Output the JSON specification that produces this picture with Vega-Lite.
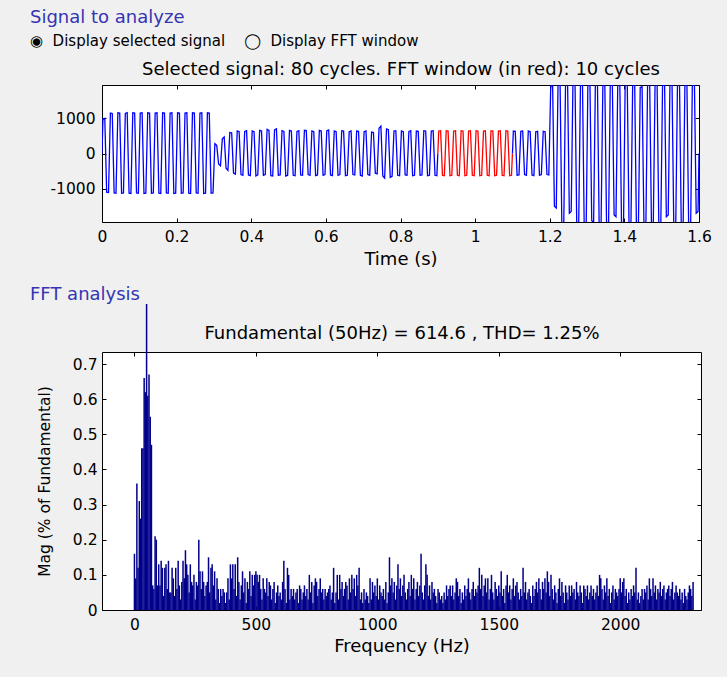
{
"$schema": "https://vega.github.io/schema/vega-lite/v6.json",
"background": "#f0f0f0",
"padding": {"left": 29, "top": 8, "right": 20, "bottom": 25},
"config": {
  "view": {"fill": "white", "stroke": "black", "strokeWidth": 1},
  "font": "DejaVu Sans",
  "axis": {"labelFont": "DejaVu Sans", "labelFontSize": 15.5, "labelColor": "black", "labelFlush": false, "titleFont": "DejaVu Sans", "titleFontSize": 18, "titleFontWeight": "normal", "titleColor": "black", "domain": false, "grid": false, "tickColor": "black", "tickSize": -4, "labelPadding": 11},
  "title": {"font": "DejaVu Sans", "fontWeight": "normal", "color": "#3434b4", "fontSize": 18, "anchor": "start", "frame": "group", "subtitleFont": "DejaVu Sans", "subtitleColor": "black", "subtitleFontSize": 15}
},
"concat": [
{
  "width": 597, "height": 137,
  "title": {"text": "Signal to analyze", "subtitle": "◉\u00a0\u00a0Display selected signal\u00a0\u00a0\u00a0\u00a0◯\u00a0\u00a0Display FFT window", "dx": -72, "offset": 12, "subtitlePadding": 7},
  "data": {"values": [
{"t":0,"v":0,"s":"a"},
{"t":0.0025,"v":980,"s":"a"},{"t":0.0075,"v":1000,"s":"a"},{"t":0.0125,"v":-1100,"s":"a"},{"t":0.0175,"v":-1110,"s":"a"},
{"t":0.0225,"v":1150,"s":"a"},{"t":0.0275,"v":1140,"s":"a"},{"t":0.0325,"v":-1120,"s":"a"},{"t":0.0375,"v":-1130,"s":"a"},
{"t":0.0425,"v":1160,"s":"a"},{"t":0.0475,"v":1150,"s":"a"},{"t":0.0525,"v":-1130,"s":"a"},{"t":0.0575,"v":-1120,"s":"a"},
{"t":0.0625,"v":1140,"s":"a"},{"t":0.0675,"v":1160,"s":"a"},{"t":0.0725,"v":-1130,"s":"a"},{"t":0.0775,"v":-1140,"s":"a"},
{"t":0.0825,"v":1160,"s":"a"},{"t":0.0875,"v":1150,"s":"a"},{"t":0.0925,"v":-1120,"s":"a"},{"t":0.0975,"v":-1130,"s":"a"},
{"t":0.1025,"v":1150,"s":"a"},{"t":0.1075,"v":1160,"s":"a"},{"t":0.1125,"v":-1140,"s":"a"},{"t":0.1175,"v":-1130,"s":"a"},
{"t":0.1225,"v":1160,"s":"a"},{"t":0.1275,"v":1150,"s":"a"},{"t":0.1325,"v":-1130,"s":"a"},{"t":0.1375,"v":-1120,"s":"a"},
{"t":0.1425,"v":1150,"s":"a"},{"t":0.1475,"v":1160,"s":"a"},{"t":0.1525,"v":-1130,"s":"a"},{"t":0.1575,"v":-1140,"s":"a"},
{"t":0.1625,"v":1160,"s":"a"},{"t":0.1675,"v":1150,"s":"a"},{"t":0.1725,"v":-1120,"s":"a"},{"t":0.1775,"v":-1130,"s":"a"},
{"t":0.1825,"v":1150,"s":"a"},{"t":0.1875,"v":1160,"s":"a"},{"t":0.1925,"v":-1140,"s":"a"},{"t":0.1975,"v":-1130,"s":"a"},
{"t":0.2025,"v":1160,"s":"a"},{"t":0.2075,"v":1150,"s":"a"},{"t":0.2125,"v":-1130,"s":"a"},{"t":0.2175,"v":-1120,"s":"a"},
{"t":0.2225,"v":1150,"s":"a"},{"t":0.2275,"v":1160,"s":"a"},{"t":0.2325,"v":-1130,"s":"a"},{"t":0.2375,"v":-1140,"s":"a"},
{"t":0.2425,"v":1160,"s":"a"},{"t":0.2475,"v":1150,"s":"a"},{"t":0.2525,"v":-1120,"s":"a"},{"t":0.2575,"v":-1130,"s":"a"},
{"t":0.2625,"v":1150,"s":"a"},{"t":0.2675,"v":1160,"s":"a"},{"t":0.2725,"v":-1140,"s":"a"},{"t":0.2775,"v":-1130,"s":"a"},
{"t":0.2825,"v":1160,"s":"a"},{"t":0.2875,"v":1150,"s":"a"},{"t":0.2925,"v":-1130,"s":"a"},{"t":0.2975,"v":-1120,"s":"a"},
{"t":0.3025,"v":280,"s":"a"},{"t":0.3075,"v":230,"s":"a"},{"t":0.3125,"v":-300,"s":"a"},{"t":0.3175,"v":-350,"s":"a"},
{"t":0.3225,"v":420,"s":"a"},{"t":0.3275,"v":470,"s":"a"},{"t":0.3325,"v":-420,"s":"a"},{"t":0.3375,"v":-480,"s":"a"},
{"t":0.3425,"v":600,"s":"a"},{"t":0.3475,"v":590,"s":"a"},{"t":0.3525,"v":-560,"s":"a"},{"t":0.3575,"v":-590,"s":"a"},
{"t":0.3625,"v":640,"s":"a"},{"t":0.3675,"v":620,"s":"a"},{"t":0.3725,"v":-600,"s":"a"},{"t":0.3775,"v":-620,"s":"a"},
{"t":0.3825,"v":630,"s":"a"},{"t":0.3875,"v":650,"s":"a"},{"t":0.3925,"v":-610,"s":"a"},{"t":0.3975,"v":-630,"s":"a"},
{"t":0.4025,"v":640,"s":"a"},{"t":0.4075,"v":620,"s":"a"},{"t":0.4125,"v":-640,"s":"a"},{"t":0.4175,"v":-610,"s":"a"},
{"t":0.4225,"v":660,"s":"a"},{"t":0.4275,"v":640,"s":"a"},{"t":0.4325,"v":-620,"s":"a"},{"t":0.4375,"v":-600,"s":"a"},
{"t":0.4425,"v":690,"s":"a"},{"t":0.4475,"v":660,"s":"a"},{"t":0.4525,"v":-630,"s":"a"},{"t":0.4575,"v":-640,"s":"a"},
{"t":0.4625,"v":670,"s":"a"},{"t":0.4675,"v":700,"s":"a"},{"t":0.4725,"v":-620,"s":"a"},{"t":0.4775,"v":-610,"s":"a"},
{"t":0.4825,"v":650,"s":"a"},{"t":0.4875,"v":630,"s":"a"},{"t":0.4925,"v":-640,"s":"a"},{"t":0.4975,"v":-620,"s":"a"},
{"t":0.5025,"v":660,"s":"a"},{"t":0.5075,"v":640,"s":"a"},{"t":0.5125,"v":-620,"s":"a"},{"t":0.5175,"v":-630,"s":"a"},
{"t":0.5225,"v":630,"s":"a"},{"t":0.5275,"v":650,"s":"a"},{"t":0.5325,"v":-610,"s":"a"},{"t":0.5375,"v":-620,"s":"a"},
{"t":0.5425,"v":660,"s":"a"},{"t":0.5475,"v":650,"s":"a"},{"t":0.5525,"v":-600,"s":"a"},{"t":0.5575,"v":-620,"s":"a"},
{"t":0.5625,"v":640,"s":"a"},{"t":0.5675,"v":620,"s":"a"},{"t":0.5725,"v":-630,"s":"a"},{"t":0.5775,"v":-610,"s":"a"},
{"t":0.5825,"v":660,"s":"a"},{"t":0.5875,"v":640,"s":"a"},{"t":0.5925,"v":-620,"s":"a"},{"t":0.5975,"v":-600,"s":"a"},
{"t":0.6025,"v":650,"s":"a"},{"t":0.6075,"v":670,"s":"a"},{"t":0.6125,"v":-610,"s":"a"},{"t":0.6175,"v":-630,"s":"a"},
{"t":0.6225,"v":640,"s":"a"},{"t":0.6275,"v":620,"s":"a"},{"t":0.6325,"v":-620,"s":"a"},{"t":0.6375,"v":-600,"s":"a"},
{"t":0.6425,"v":650,"s":"a"},{"t":0.6475,"v":640,"s":"a"},{"t":0.6525,"v":-630,"s":"a"},{"t":0.6575,"v":-620,"s":"a"},
{"t":0.6625,"v":620,"s":"a"},{"t":0.6675,"v":640,"s":"a"},{"t":0.6725,"v":-600,"s":"a"},{"t":0.6775,"v":-610,"s":"a"},
{"t":0.6825,"v":640,"s":"a"},{"t":0.6875,"v":630,"s":"a"},{"t":0.6925,"v":-620,"s":"a"},{"t":0.6975,"v":-640,"s":"a"},
{"t":0.7025,"v":620,"s":"a"},{"t":0.7075,"v":640,"s":"a"},{"t":0.7125,"v":-600,"s":"a"},{"t":0.7175,"v":-620,"s":"a"},
{"t":0.7225,"v":610,"s":"a"},{"t":0.7275,"v":600,"s":"a"},{"t":0.7325,"v":-560,"s":"a"},{"t":0.7375,"v":-580,"s":"a"},
{"t":0.7425,"v":720,"s":"a"},{"t":0.7475,"v":780,"s":"a"},{"t":0.7525,"v":-640,"s":"a"},{"t":0.7575,"v":-700,"s":"a"},
{"t":0.7625,"v":700,"s":"a"},{"t":0.7675,"v":680,"s":"a"},{"t":0.7725,"v":-680,"s":"a"},{"t":0.7775,"v":-650,"s":"a"},
{"t":0.7825,"v":640,"s":"a"},{"t":0.7875,"v":650,"s":"a"},{"t":0.7925,"v":-620,"s":"a"},{"t":0.7975,"v":-630,"s":"a"},
{"t":0.8025,"v":640,"s":"a"},{"t":0.8075,"v":620,"s":"a"},{"t":0.8125,"v":-610,"s":"a"},{"t":0.8175,"v":-620,"s":"a"},
{"t":0.8225,"v":630,"s":"a"},{"t":0.8275,"v":650,"s":"a"},{"t":0.8325,"v":-630,"s":"a"},{"t":0.8375,"v":-620,"s":"a"},
{"t":0.8425,"v":640,"s":"a"},{"t":0.8475,"v":630,"s":"a"},{"t":0.8525,"v":-620,"s":"a"},{"t":0.8575,"v":-610,"s":"a"},
{"t":0.8625,"v":650,"s":"a"},{"t":0.8675,"v":640,"s":"a"},{"t":0.8725,"v":-630,"s":"a"},{"t":0.8775,"v":-620,"s":"a"},
{"t":0.8825,"v":640,"s":"a"},{"t":0.8875,"v":650,"s":"a"},{"t":0.8925,"v":-620,"s":"a"},{"t":0.8975,"v":-630,"s":"a"},
{"t":0.9,"v":0,"s":"a"},
{"t":0.9,"v":0,"s":"b"},
{"t":0.9025,"v":640,"s":"b"},{"t":0.9075,"v":650,"s":"b"},{"t":0.9125,"v":-620,"s":"b"},{"t":0.9175,"v":-630,"s":"b"},
{"t":0.9225,"v":650,"s":"b"},{"t":0.9275,"v":640,"s":"b"},{"t":0.9325,"v":-630,"s":"b"},{"t":0.9375,"v":-620,"s":"b"},
{"t":0.9425,"v":640,"s":"b"},{"t":0.9475,"v":650,"s":"b"},{"t":0.9525,"v":-620,"s":"b"},{"t":0.9575,"v":-630,"s":"b"},
{"t":0.9625,"v":650,"s":"b"},{"t":0.9675,"v":640,"s":"b"},{"t":0.9725,"v":-630,"s":"b"},{"t":0.9775,"v":-620,"s":"b"},
{"t":0.9825,"v":640,"s":"b"},{"t":0.9875,"v":650,"s":"b"},{"t":0.9925,"v":-620,"s":"b"},{"t":0.9975,"v":-630,"s":"b"},
{"t":1.0025,"v":650,"s":"b"},{"t":1.0075,"v":640,"s":"b"},{"t":1.0125,"v":-630,"s":"b"},{"t":1.0175,"v":-620,"s":"b"},
{"t":1.0225,"v":640,"s":"b"},{"t":1.0275,"v":650,"s":"b"},{"t":1.0325,"v":-620,"s":"b"},{"t":1.0375,"v":-630,"s":"b"},
{"t":1.0425,"v":650,"s":"b"},{"t":1.0475,"v":640,"s":"b"},{"t":1.0525,"v":-630,"s":"b"},{"t":1.0575,"v":-620,"s":"b"},
{"t":1.0625,"v":640,"s":"b"},{"t":1.0675,"v":650,"s":"b"},{"t":1.0725,"v":-620,"s":"b"},{"t":1.0775,"v":-630,"s":"b"},
{"t":1.0825,"v":650,"s":"b"},{"t":1.0875,"v":640,"s":"b"},{"t":1.0925,"v":-630,"s":"b"},{"t":1.0975,"v":-620,"s":"b"},
{"t":1.1,"v":0,"s":"b"},
{"t":1.1,"v":0,"s":"c"},
{"t":1.1025,"v":640,"s":"c"},{"t":1.1075,"v":630,"s":"c"},{"t":1.1125,"v":-620,"s":"c"},{"t":1.1175,"v":-610,"s":"c"},
{"t":1.1225,"v":630,"s":"c"},{"t":1.1275,"v":640,"s":"c"},{"t":1.1325,"v":-600,"s":"c"},{"t":1.1375,"v":-620,"s":"c"},
{"t":1.1425,"v":640,"s":"c"},{"t":1.1475,"v":620,"s":"c"},{"t":1.1525,"v":-610,"s":"c"},{"t":1.1575,"v":-630,"s":"c"},
{"t":1.1625,"v":620,"s":"c"},{"t":1.1675,"v":630,"s":"c"},{"t":1.1725,"v":-620,"s":"c"},{"t":1.1775,"v":-600,"s":"c"},
{"t":1.1825,"v":630,"s":"c"},{"t":1.1875,"v":620,"s":"c"},{"t":1.1925,"v":-600,"s":"c"},{"t":1.1975,"v":-610,"s":"c"},
{"t":1.2025,"v":1850,"s":"c"},{"t":1.2075,"v":2100,"s":"c"},{"t":1.2125,"v":-1500,"s":"c"},{"t":1.2175,"v":-1550,"s":"c"},
{"t":1.2225,"v":2200,"s":"c"},{"t":1.2275,"v":2150,"s":"c"},{"t":1.2325,"v":-2100,"s":"c"},{"t":1.2375,"v":-2050,"s":"c"},
{"t":1.2425,"v":2150,"s":"c"},{"t":1.2475,"v":2250,"s":"c"},{"t":1.2525,"v":-1700,"s":"c"},{"t":1.2575,"v":-1650,"s":"c"},
{"t":1.2625,"v":2300,"s":"c"},{"t":1.2675,"v":2200,"s":"c"},{"t":1.2725,"v":-2150,"s":"c"},{"t":1.2775,"v":-2100,"s":"c"},
{"t":1.2825,"v":2100,"s":"c"},{"t":1.2875,"v":2200,"s":"c"},{"t":1.2925,"v":-2200,"s":"c"},{"t":1.2975,"v":-2250,"s":"c"},
{"t":1.3025,"v":2250,"s":"c"},{"t":1.3075,"v":2150,"s":"c"},{"t":1.3125,"v":-1900,"s":"c"},{"t":1.3175,"v":-2000,"s":"c"},
{"t":1.3225,"v":2200,"s":"c"},{"t":1.3275,"v":2300,"s":"c"},{"t":1.3325,"v":-2100,"s":"c"},{"t":1.3375,"v":-2050,"s":"c"},
{"t":1.3425,"v":2100,"s":"c"},{"t":1.3475,"v":2050,"s":"c"},{"t":1.3525,"v":-2200,"s":"c"},{"t":1.3575,"v":-2150,"s":"c"},
{"t":1.3625,"v":2250,"s":"c"},{"t":1.3675,"v":2200,"s":"c"},{"t":1.3725,"v":-1750,"s":"c"},{"t":1.3775,"v":-1800,"s":"c"},
{"t":1.3825,"v":2150,"s":"c"},{"t":1.3875,"v":2250,"s":"c"},{"t":1.3925,"v":-2150,"s":"c"},{"t":1.3975,"v":-2200,"s":"c"},
{"t":1.4025,"v":2300,"s":"c"},{"t":1.4075,"v":2200,"s":"c"},{"t":1.4125,"v":-2050,"s":"c"},{"t":1.4175,"v":-2100,"s":"c"},
{"t":1.4225,"v":2200,"s":"c"},{"t":1.4275,"v":2100,"s":"c"},{"t":1.4325,"v":-2250,"s":"c"},{"t":1.4375,"v":-2200,"s":"c"},
{"t":1.4425,"v":1880,"s":"c"},{"t":1.4475,"v":1900,"s":"c"},{"t":1.4525,"v":-2100,"s":"c"},{"t":1.4575,"v":-2150,"s":"c"},
{"t":1.4625,"v":2250,"s":"c"},{"t":1.4675,"v":2300,"s":"c"},{"t":1.4725,"v":-1950,"s":"c"},{"t":1.4775,"v":-2000,"s":"c"},
{"t":1.4825,"v":2200,"s":"c"},{"t":1.4875,"v":2150,"s":"c"},{"t":1.4925,"v":-2200,"s":"c"},{"t":1.4975,"v":-2150,"s":"c"},
{"t":1.5025,"v":2100,"s":"c"},{"t":1.5075,"v":2200,"s":"c"},{"t":1.5125,"v":-1800,"s":"c"},{"t":1.5175,"v":-1750,"s":"c"},
{"t":1.5225,"v":2250,"s":"c"},{"t":1.5275,"v":2200,"s":"c"},{"t":1.5325,"v":-2150,"s":"c"},{"t":1.5375,"v":-2200,"s":"c"},
{"t":1.5425,"v":2150,"s":"c"},{"t":1.5475,"v":2250,"s":"c"},{"t":1.5525,"v":-2100,"s":"c"},{"t":1.5575,"v":-2050,"s":"c"},
{"t":1.5625,"v":2200,"s":"c"},{"t":1.5675,"v":2100,"s":"c"},{"t":1.5725,"v":-2250,"s":"c"},{"t":1.5775,"v":-2200,"s":"c"},
{"t":1.5825,"v":2300,"s":"c"},{"t":1.5875,"v":2200,"s":"c"},{"t":1.5925,"v":-1700,"s":"c"},{"t":1.5975,"v":-1650,"s":"c"},
{"t":1.6,"v":0,"s":"c"}
  ]},
  "layer": [
    {"mark": {"type": "line", "clip": true, "strokeWidth": 1.3},
     "encoding": {
       "x": {"field": "t", "type": "quantitative", "scale": {"domain": [0, 1.6], "nice": false, "zero": false},
             "axis": {"orient": "bottom", "values": [0,0.2,0.4,0.6,0.8,1,1.2,1.4,1.6], "format": "~g", "title": "Time (s)", "titlePadding": 6}},
       "y": {"field": "v", "type": "quantitative", "scale": {"domain": [-1950, 1950], "nice": false},
             "axis": {"orient": "left", "values": [-1000, 0, 1000], "labelExpr": "'' + datum.value", "title": null}},
       "color": {"field": "s", "type": "nominal", "scale": {"domain": ["a","b","c"], "range": ["#0000ff","#ff0000","#0000ff"]}, "legend": null}
     }},
    {"mark": {"type": "line", "opacity": 0, "clip": true},
     "encoding": {
       "x": {"field": "t", "type": "quantitative",
             "axis": {"orient": "top", "values": [0,0.2,0.4,0.6,0.8,1,1.2,1.4,1.6], "labels": false, "title": "Selected signal: 80 cycles. FFT window (in red): 10 cycles", "titlePadding": 6}},
       "y": {"field": "v", "type": "quantitative",
             "axis": {"orient": "right", "values": [-1000, 0, 1000], "labels": false, "title": null}},
       "detail": {"field": "s"}
     }}
  ],
  "resolve": {"axis": {"x": "independent", "y": "independent"}}
},
{
  "width": 599, "height": 258,
  "title": {"text": "FFT analysis", "dx": -72, "offset": 0},
  "data": {"values": [
{"f":0,"m":0.16},{"f":5,"m":0.09},{"f":10,"m":0.36},{"f":15,"m":0.12},{"f":20,"m":0.31},{"f":25,"m":0.26},{"f":30,"m":0.46},{"f":35,"m":0.46},{"f":40,"m":0.66},{"f":45,"m":0.62},
{"f":50,"m":100},{"f":55,"m":0.61},{"f":60,"m":0.67},{"f":65,"m":0.55},{"f":70,"m":0.47},{"f":75,"m":0.07},{"f":80,"m":0.06},{"f":85,"m":0.21},{"f":90,"m":0.2},{"f":95,"m":0.07},
{"f":100,"m":0.13},{"f":105,"m":0.07},{"f":110,"m":0.14},{"f":115,"m":0.12},{"f":120,"m":0.04},{"f":125,"m":0.12},{"f":130,"m":0.13},{"f":135,"m":0.06},{"f":140,"m":0.14},{"f":145,"m":0.05},
{"f":150,"m":0.05},{"f":155,"m":0.12},{"f":160,"m":0.09},{"f":165,"m":0.04},{"f":170,"m":0.12},{"f":175,"m":0.06},{"f":180,"m":0.14},{"f":185,"m":0.07},{"f":190,"m":0.03},{"f":195,"m":0.08},
{"f":200,"m":0.14},{"f":205,"m":0.09},{"f":210,"m":0.17},{"f":215,"m":0.13},{"f":220,"m":0.1},{"f":225,"m":0.05},{"f":230,"m":0.13},{"f":235,"m":0.08},{"f":240,"m":0.07},{"f":245,"m":0.1},
{"f":250,"m":0.03},{"f":255,"m":0.08},{"f":260,"m":0.07},{"f":265,"m":0.2},{"f":270,"m":0.11},{"f":275,"m":0.06},{"f":280,"m":0.11},{"f":285,"m":0.08},{"f":290,"m":0.04},{"f":295,"m":0.07},
{"f":300,"m":0.08},{"f":305,"m":0.15},{"f":310,"m":0.05},{"f":315,"m":0.12},{"f":320,"m":0.13},{"f":325,"m":0.07},{"f":330,"m":0.11},{"f":335,"m":0.03},{"f":340,"m":0.09},{"f":345,"m":0.06},
{"f":350,"m":0.02},{"f":355,"m":0.06},{"f":360,"m":0.04},{"f":365,"m":0.06},{"f":370,"m":0.05},{"f":375,"m":0.02},{"f":380,"m":0.05},{"f":385,"m":0.09},{"f":390,"m":0.03},{"f":395,"m":0.13},
{"f":400,"m":0.09},{"f":405,"m":0.13},{"f":410,"m":0.06},{"f":415,"m":0.13},{"f":420,"m":0.04},{"f":425,"m":0.15},{"f":430,"m":0.08},{"f":435,"m":0.03},{"f":440,"m":0.07},{"f":445,"m":0.11},
{"f":450,"m":0.05},{"f":455,"m":0.09},{"f":460,"m":0.02},{"f":465,"m":0.08},{"f":470,"m":0.06},{"f":475,"m":0.11},{"f":480,"m":0.04},{"f":485,"m":0.1},{"f":490,"m":0.07},{"f":495,"m":0.1},
{"f":500,"m":0.11},{"f":505,"m":0.1},{"f":510,"m":0.08},{"f":515,"m":0.1},{"f":520,"m":0.06},{"f":525,"m":0.03},{"f":530,"m":0.09},{"f":535,"m":0.06},{"f":540,"m":0.05},{"f":545,"m":0.09},
{"f":550,"m":0.04},{"f":555,"m":0.08},{"f":560,"m":0.07},{"f":565,"m":0.03},{"f":570,"m":0.06},{"f":575,"m":0.08},{"f":580,"m":0.02},{"f":585,"m":0.05},{"f":590,"m":0.07},{"f":595,"m":0.04},
{"f":600,"m":0.05},{"f":605,"m":0.03},{"f":610,"m":0.08},{"f":615,"m":0.14},{"f":620,"m":0.06},{"f":625,"m":0.02},{"f":630,"m":0.12},{"f":635,"m":0.1},{"f":640,"m":0.03},{"f":645,"m":0.06},
{"f":650,"m":0.04},{"f":655,"m":0.06},{"f":660,"m":0.03},{"f":665,"m":0.05},{"f":670,"m":0.06},{"f":675,"m":0.02},{"f":680,"m":0.07},{"f":685,"m":0.06},{"f":690,"m":0.03},{"f":695,"m":0.05},
{"f":700,"m":0.07},{"f":705,"m":0.04},{"f":710,"m":0.06},{"f":715,"m":0.03},{"f":720,"m":0.1},{"f":725,"m":0.05},{"f":730,"m":0.08},{"f":735,"m":0.02},{"f":740,"m":0.07},{"f":745,"m":0.09},
{"f":750,"m":0.08},{"f":755,"m":0.04},{"f":760,"m":0.06},{"f":765,"m":0.09},{"f":770,"m":0.05},{"f":775,"m":0.06},{"f":780,"m":0.03},{"f":785,"m":0.06},{"f":790,"m":0.04},{"f":795,"m":0.05},
{"f":800,"m":0.06},{"f":805,"m":0.07},{"f":810,"m":0.03},{"f":815,"m":0.05},{"f":820,"m":0.12},{"f":825,"m":0.02},{"f":830,"m":0.05},{"f":835,"m":0.1},{"f":840,"m":0.03},{"f":845,"m":0.1},
{"f":850,"m":0.06},{"f":855,"m":0.08},{"f":860,"m":0.04},{"f":865,"m":0.06},{"f":870,"m":0.08},{"f":875,"m":0.07},{"f":880,"m":0.03},{"f":885,"m":0.09},{"f":890,"m":0.05},{"f":895,"m":0.1},
{"f":900,"m":0.06},{"f":905,"m":0.09},{"f":910,"m":0.04},{"f":915,"m":0.1},{"f":920,"m":0.07},{"f":925,"m":0.12},{"f":930,"m":0.03},{"f":935,"m":0.05},{"f":940,"m":0.02},{"f":945,"m":0.06},
{"f":950,"m":0.03},{"f":955,"m":0.05},{"f":960,"m":0.04},{"f":965,"m":0.02},{"f":970,"m":0.09},{"f":975,"m":0.03},{"f":980,"m":0.08},{"f":985,"m":0.05},{"f":990,"m":0.07},{"f":995,"m":0.04},
{"f":1000,"m":0.09},{"f":1005,"m":0.03},{"f":1010,"m":0.07},{"f":1015,"m":0.05},{"f":1020,"m":0.04},{"f":1025,"m":0.06},{"f":1030,"m":0.03},{"f":1035,"m":0.08},{"f":1040,"m":0.02},{"f":1045,"m":0.05},
{"f":1050,"m":0.15},{"f":1055,"m":0.07},{"f":1060,"m":0.09},{"f":1065,"m":0.05},{"f":1070,"m":0.08},{"f":1075,"m":0.03},{"f":1080,"m":0.07},{"f":1085,"m":0.13},{"f":1090,"m":0.06},{"f":1095,"m":0.09},
{"f":1100,"m":0.04},{"f":1105,"m":0.07},{"f":1110,"m":0.1},{"f":1115,"m":0.05},{"f":1120,"m":0.03},{"f":1125,"m":0.06},{"f":1130,"m":0.08},{"f":1135,"m":0.04},{"f":1140,"m":0.1},{"f":1145,"m":0.06},
{"f":1150,"m":0.09},{"f":1155,"m":0.03},{"f":1160,"m":0.06},{"f":1165,"m":0.08},{"f":1170,"m":0.04},{"f":1175,"m":0.07},{"f":1180,"m":0.16},{"f":1185,"m":0.05},{"f":1190,"m":0.03},{"f":1195,"m":0.07},
{"f":1200,"m":0.13},{"f":1205,"m":0.1},{"f":1210,"m":0.04},{"f":1215,"m":0.07},{"f":1220,"m":0.03},{"f":1225,"m":0.08},{"f":1230,"m":0.05},{"f":1235,"m":0.06},{"f":1240,"m":0.04},{"f":1245,"m":0.02},
{"f":1250,"m":0.06},{"f":1255,"m":0.05},{"f":1260,"m":0.03},{"f":1265,"m":0.04},{"f":1270,"m":0.02},{"f":1275,"m":0.05},{"f":1280,"m":0.03},{"f":1285,"m":0.07},{"f":1290,"m":0.04},{"f":1295,"m":0.06},
{"f":1300,"m":0.07},{"f":1305,"m":0.04},{"f":1310,"m":0.07},{"f":1315,"m":0.03},{"f":1320,"m":0.05},{"f":1325,"m":0.09},{"f":1330,"m":0.08},{"f":1335,"m":0.04},{"f":1340,"m":0.06},{"f":1345,"m":0.02},
{"f":1350,"m":0.05},{"f":1355,"m":0.03},{"f":1360,"m":0.07},{"f":1365,"m":0.04},{"f":1370,"m":0.06},{"f":1375,"m":0.09},{"f":1380,"m":0.05},{"f":1385,"m":0.03},{"f":1390,"m":0.06},{"f":1395,"m":0.08},
{"f":1400,"m":0.04},{"f":1405,"m":0.06},{"f":1410,"m":0.05},{"f":1415,"m":0.07},{"f":1420,"m":0.12},{"f":1425,"m":0.06},{"f":1430,"m":0.1},{"f":1435,"m":0.04},{"f":1440,"m":0.07},{"f":1445,"m":0.09},
{"f":1450,"m":0.05},{"f":1455,"m":0.09},{"f":1460,"m":0.03},{"f":1465,"m":0.06},{"f":1470,"m":0.1},{"f":1475,"m":0.05},{"f":1480,"m":0.03},{"f":1485,"m":0.08},{"f":1490,"m":0.06},{"f":1495,"m":0.04},
{"f":1500,"m":0.07},{"f":1505,"m":0.05},{"f":1510,"m":0.11},{"f":1515,"m":0.04},{"f":1520,"m":0.06},{"f":1525,"m":0.02},{"f":1530,"m":0.07},{"f":1535,"m":0.1},{"f":1540,"m":0.05},{"f":1545,"m":0.07},
{"f":1550,"m":0.03},{"f":1555,"m":0.06},{"f":1560,"m":0.09},{"f":1565,"m":0.04},{"f":1570,"m":0.07},{"f":1575,"m":0.08},{"f":1580,"m":0.05},{"f":1585,"m":0.03},{"f":1590,"m":0.06},{"f":1595,"m":0.04},
{"f":1600,"m":0.12},{"f":1605,"m":0.05},{"f":1610,"m":0.08},{"f":1615,"m":0.03},{"f":1620,"m":0.05},{"f":1625,"m":0.06},{"f":1630,"m":0.04},{"f":1635,"m":0.02},{"f":1640,"m":0.07},{"f":1645,"m":0.04},
{"f":1650,"m":0.06},{"f":1655,"m":0.08},{"f":1660,"m":0.05},{"f":1665,"m":0.09},{"f":1670,"m":0.06},{"f":1675,"m":0.03},{"f":1680,"m":0.08},{"f":1685,"m":0.06},{"f":1690,"m":0.09},{"f":1695,"m":0.05},
{"f":1700,"m":0.11},{"f":1705,"m":0.08},{"f":1710,"m":0.04},{"f":1715,"m":0.1},{"f":1720,"m":0.06},{"f":1725,"m":0.03},{"f":1730,"m":0.07},{"f":1735,"m":0.05},{"f":1740,"m":0.02},{"f":1745,"m":0.06},
{"f":1750,"m":0.09},{"f":1755,"m":0.04},{"f":1760,"m":0.08},{"f":1765,"m":0.05},{"f":1770,"m":0.02},{"f":1775,"m":0.07},{"f":1780,"m":0.05},{"f":1785,"m":0.03},{"f":1790,"m":0.07},{"f":1795,"m":0.04},
{"f":1800,"m":0.07},{"f":1805,"m":0.05},{"f":1810,"m":0.06},{"f":1815,"m":0.03},{"f":1820,"m":0.08},{"f":1825,"m":0.05},{"f":1830,"m":0.04},{"f":1835,"m":0.07},{"f":1840,"m":0.05},{"f":1845,"m":0.02},
{"f":1850,"m":0.07},{"f":1855,"m":0.06},{"f":1860,"m":0.04},{"f":1865,"m":0.07},{"f":1870,"m":0.03},{"f":1875,"m":0.05},{"f":1880,"m":0.07},{"f":1885,"m":0.04},{"f":1890,"m":0.06},{"f":1895,"m":0.03},
{"f":1900,"m":0.05},{"f":1905,"m":0.07},{"f":1910,"m":0.04},{"f":1915,"m":0.1},{"f":1920,"m":0.09},{"f":1925,"m":0.06},{"f":1930,"m":0.03},{"f":1935,"m":0.07},{"f":1940,"m":0.05},{"f":1945,"m":0.09},
{"f":1950,"m":0.04},{"f":1955,"m":0.06},{"f":1960,"m":0.02},{"f":1965,"m":0.05},{"f":1970,"m":0.07},{"f":1975,"m":0.03},{"f":1980,"m":0.06},{"f":1985,"m":0.05},{"f":1990,"m":0.04},{"f":1995,"m":0.06},
{"f":2000,"m":0.09},{"f":2005,"m":0.05},{"f":2010,"m":0.08},{"f":2015,"m":0.09},{"f":2020,"m":0.04},{"f":2025,"m":0.06},{"f":2030,"m":0.02},{"f":2035,"m":0.05},{"f":2040,"m":0.03},{"f":2045,"m":0.06},
{"f":2050,"m":0.04},{"f":2055,"m":0.07},{"f":2060,"m":0.05},{"f":2065,"m":0.12},{"f":2070,"m":0.03},{"f":2075,"m":0.05},{"f":2080,"m":0.02},{"f":2085,"m":0.04},{"f":2090,"m":0.06},{"f":2095,"m":0.03},
{"f":2100,"m":0.06},{"f":2105,"m":0.05},{"f":2110,"m":0.07},{"f":2115,"m":0.03},{"f":2120,"m":0.09},{"f":2125,"m":0.06},{"f":2130,"m":0.04},{"f":2135,"m":0.09},{"f":2140,"m":0.05},{"f":2145,"m":0.07},
{"f":2150,"m":0.03},{"f":2155,"m":0.06},{"f":2160,"m":0.05},{"f":2165,"m":0.08},{"f":2170,"m":0.04},{"f":2175,"m":0.06},{"f":2180,"m":0.07},{"f":2185,"m":0.03},{"f":2190,"m":0.05},{"f":2195,"m":0.06},
{"f":2200,"m":0.07},{"f":2205,"m":0.04},{"f":2210,"m":0.06},{"f":2215,"m":0.08},{"f":2220,"m":0.03},{"f":2225,"m":0.05},{"f":2230,"m":0.07},{"f":2235,"m":0.05},{"f":2240,"m":0.04},{"f":2245,"m":0.06},
{"f":2250,"m":0.03},{"f":2255,"m":0.05},{"f":2260,"m":0.02},{"f":2265,"m":0.06},{"f":2270,"m":0.04},{"f":2275,"m":0.03},{"f":2280,"m":0.05},{"f":2285,"m":0.07},{"f":2290,"m":0.06},{"f":2295,"m":0.04},
{"f":2300,"m":0.08}
  ]},
  "layer": [
    {"mark": {"type": "bar", "width": 1.5, "color": "#00008b", "clip": false},
     "encoding": {
       "x": {"field": "f", "type": "quantitative", "scale": {"domain": [-113, 2312], "nice": false, "zero": false},
             "axis": {"orient": "bottom", "values": [0,500,1000,1500,2000], "format": "d", "title": "Frequency (Hz)", "titlePadding": 5}},
       "y": {"field": "m", "type": "quantitative", "scale": {"domain": [0, 0.8708], "range": [258, -48], "clamp": true, "nice": false},
             "axis": {"orient": "left", "values": [0,0.1,0.2,0.3,0.4,0.5,0.6,0.7], "format": "~g", "labelPadding": 9, "title": "Mag (% of Fundamental)", "titleFontSize": 15.5, "titlePadding": 20, "titleY": 129}}
     }},
    {"mark": {"type": "bar", "width": 1.5, "opacity": 0, "clip": false},
     "encoding": {
       "x": {"field": "f", "type": "quantitative",
             "axis": {"orient": "top", "values": [0,500,1000,1500,2000], "labels": false, "title": "Fundamental (50Hz) = 614.6 , THD= 1.25%", "titlePadding": 9}},
       "y": {"field": "m", "type": "quantitative",
             "axis": {"orient": "right", "values": [0,0.1,0.2,0.3,0.4,0.5,0.6,0.7], "labels": false, "title": null}}
     }}
  ],
  "resolve": {"axis": {"x": "independent", "y": "independent"}}
}
],
"columns": 1,
"align": "each",
"spacing": 16
}
